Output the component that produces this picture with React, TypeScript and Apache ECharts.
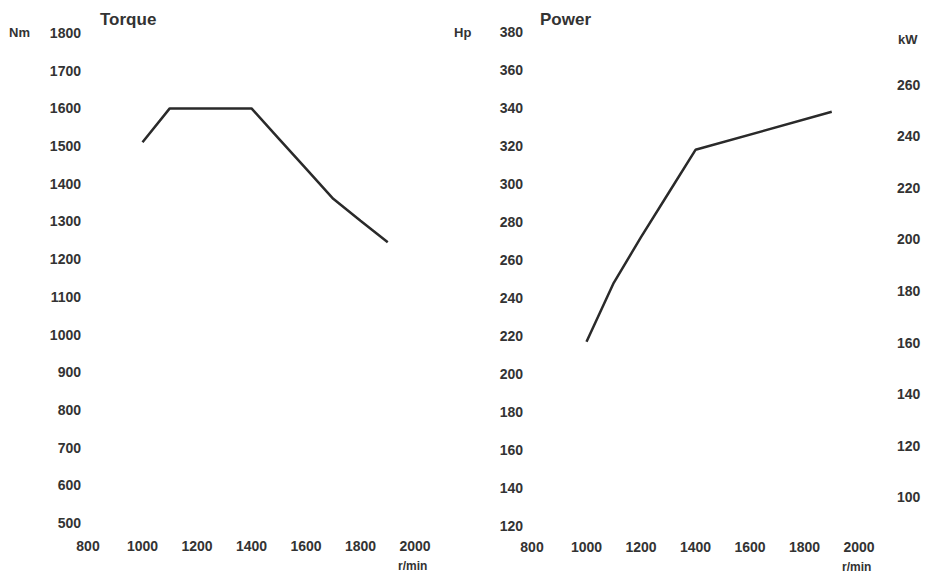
import React, { useEffect, useRef } from "react";
import * as echarts from "echarts";

const rpmTicks = [800, 1000, 1200, 1400, 1600, 1800, 2000];

const torqueRpm = [1000, 1100, 1400, 1500, 1600, 1700, 1800, 1900];
const torqueNm = [1510, 1600, 1600, 1520, 1440, 1360, 1302, 1245];

const powerRpm = [1000, 1100, 1200, 1300, 1400, 1900];
const powerHp = [217, 248, 272, 295, 318, 338];

const kwLabels = [100, 120, 140, 160, 180, 200, 220, 240, 260];

const FONT = "'Liberation Sans', Arial, sans-serif";
const TXT = "#333333";
const LINE = "#2a2a2a";

export default function App() {
  const ref = useRef<HTMLDivElement>(null);
  useEffect(() => {
    if (!ref.current) return;
    const chart = echarts.init(ref.current, null, { renderer: "svg" });
    const lbl = {
      color: TXT,
      fontFamily: FONT,
      fontWeight: "bold" as const,
      fontSize: 14,
      formatter: (v: number) => String(v),
    };
    const ttl = { color: TXT, fontFamily: FONT, fontWeight: "bold" as const, fontSize: 17 };
    const hidden = {
      axisLine: { show: false },
      axisTick: { show: false },
      splitLine: { show: false },
    };
    chart.setOption({
      animation: false,
      backgroundColor: "#ffffff",
      title: [
        { text: "Torque", left: 95, top: 6, textStyle: ttl },
        { text: "Power", left: 535, top: 6, textStyle: ttl },
      ],
      grid: [
        { left: 88, top: 33, width: 327, height: 490 },
        { left: 532, top: 32, width: 327, height: 494 },
      ],
      xAxis: [
        {
          type: "value", gridIndex: 0, min: rpmTicks[0], max: rpmTicks[rpmTicks.length - 1], interval: 200,
          ...hidden,
          axisLabel: { ...lbl, margin: 16, showMinLabel: true, showMaxLabel: true },
        },
        {
          type: "value", gridIndex: 1, min: rpmTicks[0], max: rpmTicks[rpmTicks.length - 1], interval: 200,
          ...hidden,
          axisLabel: { ...lbl, margin: 14, showMinLabel: true, showMaxLabel: true },
        },
      ],
      yAxis: [
        {
          type: "value", gridIndex: 0, min: 500, max: 1800, interval: 100,
          ...hidden,
          axisLabel: { ...lbl, margin: 7 },
        },
        {
          type: "value", gridIndex: 1, min: 120, max: 380, interval: 20,
          ...hidden,
          axisLabel: { ...lbl, margin: 9 },
        },
        {
          type: "value", gridIndex: 1, position: "right", min: 88.74, max: 280.58,
          ...hidden,
          axisLabel: { ...lbl, margin: 38, customValues: kwLabels },
        },
      ],
      graphic: [
        { type: "text", left: 9, top: 26, style: { text: "Nm", fill: TXT, font: `bold 13px ${FONT}` } },
        { type: "text", left: 454, top: 26, style: { text: "Hp", fill: TXT, font: `bold 13px ${FONT}` } },
        { type: "text", left: 898, top: 33, style: { text: "kW", fill: TXT, font: `bold 13px ${FONT}` } },
        { type: "text", left: 398, top: 560, style: { text: "r/min", fill: TXT, font: `bold 12px ${FONT}` } },
        { type: "text", left: 842, top: 561, style: { text: "r/min", fill: TXT, font: `bold 12px ${FONT}` } },
      ],
      series: [
        {
          type: "line", xAxisIndex: 0, yAxisIndex: 0, showSymbol: false,
          lineStyle: { color: LINE, width: 2.5 },
          data: torqueRpm.map((r, i) => [r, torqueNm[i]]),
        },
        {
          type: "line", xAxisIndex: 1, yAxisIndex: 1, showSymbol: false,
          lineStyle: { color: LINE, width: 2.5 },
          data: powerRpm.map((r, i) => [r, powerHp[i]]),
        },
      ],
    });
    return () => chart.dispose();
  }, []);
  return (
    <div
      ref={ref}
      style={{ position: "fixed", left: 0, top: 0, width: 928, height: 575, background: "#fff" }}
    />
  );
}
